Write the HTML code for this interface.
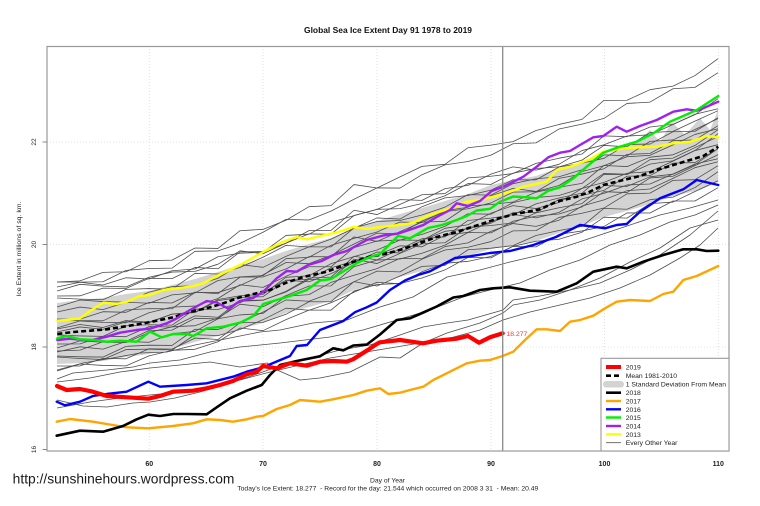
<!DOCTYPE html>
<html>
<head>
<meta charset="utf-8">
<style>
html,body{margin:0;padding:0;background:#fff;}
body{width:760px;height:506px;overflow:hidden;}
svg{display:block;}
text{font-family:"Liberation Sans",Arial,sans-serif;}
</style>
</head>
<body>
<svg width="760" height="506" viewBox="0 0 760 506" xmlns="http://www.w3.org/2000/svg" xmlns:xlink="http://www.w3.org/1999/xlink">
<defs>
<path id="tA" d="M57,334 L80,329 L103,331.5 L126,324 L149,325 L172,316.5 L195,314.5 L218,302 L240,298.3 L263,297 L286,280 L309,278.5 L331,266.5 L354,259.5 L377,253 L400,243 L422,243.5 L445,231.5 L468,228 L491,216.5 L513,209 L536,212 L559,206 L582,192 L604,186 L627,177 L650,175.5 L673,165 L695,154.5 L718,148.7"/>
<path id="tB" d="M57,336 L80,336 L103,328.5 L126,329 L149,319 L172,319.5 L195,308.5 L218,310 L240,293.3 L263,293 L286,285 L309,272.5 L331,272.5 L354,252.5 L377,257 L400,247 L422,237.5 L445,236.5 L468,221 L491,219.5 L513,217 L536,207 L559,202 L582,198 L604,180 L627,181 L650,171.5 L673,169 L695,159.5 L718,143.7"/>
<path id="tC" d="M57,332 L80,333 L103,333.5 L126,323 L149,322 L172,322.5 L195,306.5 L218,307 L240,300.3 L263,290 L286,278 L309,279.5 L331,271.5 L354,260.5 L377,250 L400,251 L422,238.5 L445,229.5 L468,227 L491,221.5 L513,211 L536,211 L559,198 L582,194 L604,189 L627,175 L650,174.5 L673,162 L695,161.5 L718,147.7"/>
<path id="tD" d="M57,335 L80,328 L103,329.5 L126,330 L149,320 L172,314.5 L195,313.5 L218,306 L240,292.3 L263,295 L286,284 L309,274.5 L331,274.5 L354,255.5 L377,249 L400,248 L422,242.5 L445,234.5 L468,222 L491,222.5 L513,211 L536,206 L559,204 L582,197 L604,182 L627,183 L650,168.5 L673,167 L695,156.5 L718,145.7"/>
</defs>

<!-- grid -->
<g stroke="#d9d9d9" stroke-width="0.8" stroke-dasharray="1,2" fill="none">
<line x1="149.3" y1="46" x2="149.3" y2="451"/>
<line x1="263" y1="46" x2="263" y2="451"/>
<line x1="377" y1="46" x2="377" y2="451"/>
<line x1="491" y1="46" x2="491" y2="451"/>
<line x1="604.5" y1="46" x2="604.5" y2="451"/>
<line x1="718.3" y1="46" x2="718.3" y2="451"/>
<line x1="47" y1="142" x2="729" y2="142"/>
<line x1="47" y1="244.5" x2="729" y2="244.5"/>
<line x1="47" y1="347" x2="729" y2="347"/>
</g>

<!-- SD band -->
<polygon fill="#d3d3d3" stroke="none" points="57,303 80,300 103,298 126,294 149,291 172,285 195,279 218,272 240,265 263,259 286,251 309,244 331,238 354,228 377,221 400,214 422,208 445,201 468,194 491,185 513,180 536,176 559,168 582,162 604,155 627,148 640,140 650,130 660,142 672,122 685,135 700,118 710,130 718,110 718,182 700,190 673,196 650,204 627,211 604,217 582,226 559,233 536,241 513,245 491,249 468,256 445,265 422,271 400,277 377,284 354,290 331,301 309,307 286,313 263,323 240,329 218,336 195,342 172,349 149,354 126,357 103,361 80,363 57,364"/>

<!-- every other year lines -->
<g stroke="#4d4d4d" stroke-width="0.8" fill="none" stroke-linejoin="round">
<use href="#tB" xlink:href="#tB" transform="matrix(1,-0.0469,0,1,0,-51.33)"/>
<use href="#tC" xlink:href="#tC" transform="matrix(1,-0.0378,0,1,0,-47.84)"/>
<use href="#tA" xlink:href="#tA" transform="matrix(1,0.0106,0,1,0,-47.6)"/>
<use href="#tD" xlink:href="#tD" transform="matrix(1,0.0136,0,1,0,-44.78)"/>
<use href="#tB" xlink:href="#tB" transform="matrix(1,-0.00756,0,1,0,-39.57)"/>
<use href="#tC" xlink:href="#tC" transform="matrix(1,0.00605,0,1,0,-34.35)"/>
<use href="#tD" xlink:href="#tD" transform="matrix(1,0.00151,0,1,0,-28.09)"/>
<use href="#tA" xlink:href="#tA" transform="matrix(1,0.00303,0,1,0,-22.17)"/>
<use href="#tB" xlink:href="#tB" transform="matrix(1,0.00454,0,1,0,-17.26)"/>
<use href="#tC" xlink:href="#tC" transform="matrix(1,-0.01513,0,1,0,-11.14)"/>
<use href="#tD" xlink:href="#tD" transform="matrix(1,-0.00303,0,1,0,-6.83)"/>
<use href="#tA" xlink:href="#tA" transform="matrix(1,-0.00303,0,1,0,-1.83)"/>
<use href="#tC" xlink:href="#tC" transform="matrix(1,-0.00303,0,1,0,3.17)"/>
<use href="#tB" xlink:href="#tB" transform="matrix(1,-0.00454,0,1,0,8.26)"/>
<use href="#tD" xlink:href="#tD" transform="matrix(1,-0.00605,0,1,0,13.35)"/>
<use href="#tA" xlink:href="#tA" transform="matrix(1,-0.00756,0,1,0,18.43)"/>
<use href="#tC" xlink:href="#tC" transform="matrix(1,-0.00908,0,1,0,24.52)"/>
<use href="#tB" xlink:href="#tB" transform="matrix(1,-0.00303,0,1,0,30.17)"/>
<use href="#tD" xlink:href="#tD" transform="matrix(1,-0.00151,0,1,0,36.09)"/>
<use href="#tA" xlink:href="#tA" transform="matrix(1,0.0227,0,1,0,-6.29)"/>
<use href="#tB" xlink:href="#tB" transform="matrix(1,-0.0378,0,1,0,17.16)"/>
<use href="#tC" xlink:href="#tC" transform="matrix(1,0.0227,0,1,0,23.71)"/>
<polyline points="57,370 83,363 107,359 140,353 167,352 195,345 230,338 260,332 280,330 313,323 347,320 380,307 413,297 447,277 480,270 510,262 540,255 570,245 600,235 630,225 660,215 690,208 718,200"/>
<polyline points="57,379 73,373 107,370 133,367 150,363 180,360 210,352 240,347 280,343 330,337 363,330 397,320 430,310 463,297 490,290 520,283 550,270 580,260 610,245 640,235 670,222 695,215 718,205"/>
<polyline points="57,382 90,378 120,372 150,368 180,365 210,362 240,367 267,363 277,370 300,380 320,378 350,372 380,357 400,358 423,343 447,333 480,323 503,313 513,305 540,300 570,290 600,278 630,262 660,248 690,228 718,220"/>
<polyline points="57,400 83,406 107,407 133,403 150,402 175,398 200,392 230,383 260,373 290,362 310,358 340,350 370,345 400,335 423,327 447,323 468,320 503,310 513,300 540,296 570,290 600,283 630,270 660,255 690,235 718,211"/>
<polyline points="57,408 90,402 120,398 150,395 180,392 210,388 240,380 270,372 300,365 330,358 360,353 390,348 420,343 450,338 480,330 503,320 530,312 560,305 590,298 620,288 650,275 680,258 700,245 718,228"/>
</g>

<!-- mean -->
<polyline fill="none" stroke="#000" stroke-width="2.6" stroke-dasharray="5,3" points="57.3,334 73.3,332 90,330.7 106.7,329.3 123.3,326.7 140,324 156.7,320.7 173.3,317.3 190,311.7 206.7,308.3 223.3,303.3 240,297.3 256.7,293.3 270,290 286.7,282.5 303.3,277 326.7,271.7 350,263 370,256.5 385,254 403.3,249 420,243 436.7,237 456.7,232 476.7,225.5 496.7,219 513,214.5 540,209.3 556.7,201.7 576.7,196.7 590,191.7 603.3,185 623.3,180 640,176 656.7,170 673.3,165 690,160 703.3,156 718.3,146.7"/>

<g fill="none" stroke-linejoin="round" stroke-linecap="round">
<!-- 2013 yellow -->
<polyline stroke="#ffff00" stroke-width="2.4" points="57.3,320.7 66.7,320 80,318.3 90,311 103.3,302.7 116.7,304 126.7,301.7 140,296 150,295 163.3,290 180,288 193.3,286 203.3,283.3 216.7,276 230,270 240,265 253.3,257.5 266.7,250 283.3,241.7 296.7,237 306.7,239.3 320,236 336.7,232.5 353.3,227 366.7,228.8 383.3,226.7 403.3,224.5 413.3,222.7 426.7,216 440,211.7 453.3,207.3 466.7,201.7 480,200 493.3,196.7 510,191.7 523.3,186.7 546.7,181.7 556.7,170 570,166.7 590,159.3 603.3,151.7 623.3,148.3 640,147.3 656.7,146.7 673.3,143.3 690,141.7 706.7,136 718.3,137.3"/>
<!-- 2014 purple -->
<polyline stroke="#a020f0" stroke-width="2.4" points="57.3,340 70,338.7 90,340.7 106.7,336.7 120,332.7 136.7,330 150,328.7 166.7,323.3 175,319.3 190,310 206.7,301 216.7,302.5 228.3,308.7 240,301 253.3,297.8 263.3,291.7 276.7,278.3 286.7,271 296.7,271.7 308,265 321.7,261 333.3,255 346.7,251 366.7,240 383.3,235.5 398,233.6 412,229 423.3,225 436.7,217 450,210 456.7,203.3 468,206 480,201 491.7,191 503.3,186.7 523.3,176.7 536.7,166.7 548.3,157.3 560,152.7 570,151 580,145 593.3,137.3 603.3,136 616.7,126.7 626.7,131.7 640,126 656.7,120 673.3,111.7 686.7,109.3 696.7,110.7 706.7,106.7 718.3,101.7"/>
<!-- 2015 green -->
<polyline stroke="#00ee00" stroke-width="2.4" points="57.3,338.3 66.7,336 80,339.3 93.3,340 106.7,341.7 120,340.7 136.7,341.7 150,331.7 161.7,337.3 173.3,334 186.7,334 193.3,336 206.7,328.3 223.3,326.7 240,322.7 247,319.3 253.3,316 263.3,304 276.7,300 290,296 306.7,290 320,280.5 331,279 344,271 358,262.5 370,257 380,254 398,236 410,238.3 428,228 442,225 456.7,220 466.7,216 476.7,210.5 490,208.8 500,201.7 513.3,196.5 526.7,197.3 536.7,198.3 548.3,190.7 560,187.3 573.3,178.3 586.7,166.7 603.3,152.7 616.7,147.7 636.7,141.7 653.3,133.3 670,121.7 683.3,116 696.7,110 718.3,96"/>
<!-- 2016 blue -->
<polyline stroke="#0000ff" stroke-width="2.4" points="56.7,401.7 65,405.3 80,401.7 93,396 106.7,394 126.7,391.7 148.3,381.7 160,386.7 186.7,385 206.7,383.3 233,376.7 246.7,371.7 263,367.3 276.7,361.5 290,356 296.7,346 307,345 320,330 333,325 343.3,321 355,312.2 366.7,307.3 376.7,302.5 390,290 405,280.5 418,275 430,271.3 440,266 455,258 470,256.3 490,253 510,251 533.3,245 556.7,236.7 580,225 593.3,226.7 605,228.3 616.7,225 626.7,224 640,211.7 660,198.3 683.3,189.3 696.7,180 718.3,185"/>
<!-- 2017 orange -->
<polyline stroke="#ffa500" stroke-width="2.4" points="56.7,421.7 70,419 93,421.7 106.7,424 126.7,427.3 148.3,428.3 173,426 193,423.3 206.7,419.3 220,420 233,421.7 246.7,419.3 256.7,416.7 263,416 276.7,409 290,405 300,400 320,401.7 333,399.3 353.3,395 366.7,390.7 380,388.3 388.3,394 400,392.7 410,390 423.3,386.7 433.3,380 446.7,373.3 466.7,363.3 480,360.7 490,360 502.7,356 513.3,351.7 525,340 536.7,329.3 546.7,329.3 560,331 570,321.7 580,320 593.3,315.7 605,308.3 616.7,301.7 630,300 650,301 663.3,294 673.3,291.7 683.3,280 696.7,276 718.3,266"/>
<!-- 2018 black -->
<polyline stroke="#000000" stroke-width="2.6" points="56.7,435.7 80,430.7 103,431.7 123,426 136.7,419.3 148.3,414.7 160,416 173.3,414 186.7,414 206.7,414.3 216.7,407.3 230,398.3 246.7,390.7 261.7,385 270,375 280,365 296.7,361 320,356.3 333.3,348.3 343.3,350.3 353.3,345.5 366.7,344.6 380,334.5 396.7,320 410,318.3 423.3,312.5 436.7,306.5 453.3,297.5 463.3,296 480,290 493.3,288.3 510,287.3 530,290.7 556.7,291.7 576.7,283.3 593.3,271.7 616.7,266.7 626.7,268.3 643.3,261.7 663.3,255 683.3,249.3 696.7,249.3 706.7,251 718.3,250.7"/>
<!-- 2019 red -->
<polyline stroke="#ff0000" stroke-width="4.2" points="57,386 66.7,390 80,389 93,391.7 106.7,396 126.7,397.3 148.3,398.7 160,396 173,391.7 193,390.7 206.7,388.3 220,385 233,381 246.7,374.3 256.7,371.7 263,366 276.7,368.3 290,363.3 306.7,365.7 320,361.7 333,361 346.7,361.7 353,359.3 366.7,350.7 376.7,344 380,342.3 400,340 423,343.3 436.7,340.7 456.7,338.7 468,336 479,342.7 490,337.3 502.7,333.3"/>
</g>
<text x="506.5" y="336" font-size="6.8" fill="#ff3333">18.277</text>

<!-- day 91 line -->
<line x1="502.7" y1="46" x2="502.7" y2="451" stroke="#8a8a8a" stroke-width="1.3"/>

<!-- frame -->
<rect x="47" y="46.5" width="682" height="404.5" fill="none" stroke="#999" stroke-width="1.2"/>

<!-- y ticks -->
<g stroke="#888" stroke-width="1">
<line x1="42.5" y1="142" x2="47" y2="142"/>
<line x1="42.5" y1="244.5" x2="47" y2="244.5"/>
<line x1="42.5" y1="347" x2="47" y2="347"/>
<line x1="42.5" y1="449.5" x2="47" y2="449.5"/>
</g>
<g font-size="6.6" fill="#222" text-anchor="middle">
<text transform="translate(36,142) rotate(-90)">22</text>
<text transform="translate(36,244.5) rotate(-90)">20</text>
<text transform="translate(36,347) rotate(-90)">18</text>
<text transform="translate(36,449.5) rotate(-90)">16</text>
<text transform="translate(21,249) rotate(-90)" textLength="95" lengthAdjust="spacingAndGlyphs">Ice Extent in millions of sq. km.</text>
</g>

<!-- x tick labels -->
<g font-size="7" font-weight="bold" fill="#222" text-anchor="middle">
<text x="149.3" y="466">60</text>
<text x="263" y="466">70</text>
<text x="377" y="466">80</text>
<text x="491" y="466">90</text>
<text x="604.5" y="466">100</text>
<text x="718.3" y="466">110</text>
</g>

<!-- title -->
<text x="388" y="33" font-size="8.3" font-weight="bold" fill="#111" text-anchor="middle" textLength="168" lengthAdjust="spacingAndGlyphs">Global Sea Ice Extent Day 91 1978 to 2019</text>

<!-- bottom texts -->
<text x="387.5" y="482.7" font-size="6.8" fill="#222" text-anchor="middle" textLength="35" lengthAdjust="spacingAndGlyphs">Day of Year</text>
<text x="387.8" y="490.7" font-size="6.8" fill="#222" text-anchor="middle" textLength="301" lengthAdjust="spacingAndGlyphs" xml:space="preserve">Today's Ice Extent: 18.277  - Record for the day: 21.544 which occurred on 2008 3 31  - Mean: 20.49</text>
<text x="12.7" y="483.3" font-size="13.8" fill="#1a1a1a" textLength="221.7" lengthAdjust="spacingAndGlyphs">http://sunshinehours.wordpress.com</text>

<!-- legend -->
<rect x="601" y="358.3" width="128" height="92.7" fill="#fff" stroke="#999" stroke-width="1.1"/>
<g fill="none">
<line x1="606" y1="367" x2="621" y2="367" stroke="#ff0000" stroke-width="4"/>
<line x1="606" y1="375.7" x2="621" y2="375.7" stroke="#000" stroke-width="2.6" stroke-dasharray="5,3"/>
<rect x="603" y="381" width="21" height="6.5" rx="3.2" fill="#d3d3d3"/>
<line x1="606" y1="392.7" x2="621" y2="392.7" stroke="#000" stroke-width="2.6"/>
<line x1="606" y1="401" x2="621" y2="401" stroke="#ffa500" stroke-width="2.4"/>
<line x1="606" y1="409.3" x2="621" y2="409.3" stroke="#0000ff" stroke-width="2.4"/>
<line x1="606" y1="417.5" x2="621" y2="417.5" stroke="#00ee00" stroke-width="2.4"/>
<line x1="606" y1="426" x2="621" y2="426" stroke="#a020f0" stroke-width="2.4"/>
<line x1="606" y1="434.3" x2="621" y2="434.3" stroke="#ffff00" stroke-width="2.4"/>
<line x1="606" y1="442.7" x2="621" y2="442.7" stroke="#4d4d4d" stroke-width="0.8"/>
</g>
<g font-size="6.8" fill="#222">
<text x="625.7" y="369.5">2019</text>
<text x="625.7" y="378.2">Mean 1981-2010</text>
<text x="625.7" y="386.5" textLength="100.3" lengthAdjust="spacingAndGlyphs">1 Standard Deviation From Mean</text>
<text x="625.7" y="395.2">2018</text>
<text x="625.7" y="403.5">2017</text>
<text x="625.7" y="411.8">2016</text>
<text x="625.7" y="420">2015</text>
<text x="625.7" y="428.5">2014</text>
<text x="625.7" y="436.8">2013</text>
<text x="625.7" y="445.2">Every Other Year</text>
</g>
</svg>
</body>
</html>
